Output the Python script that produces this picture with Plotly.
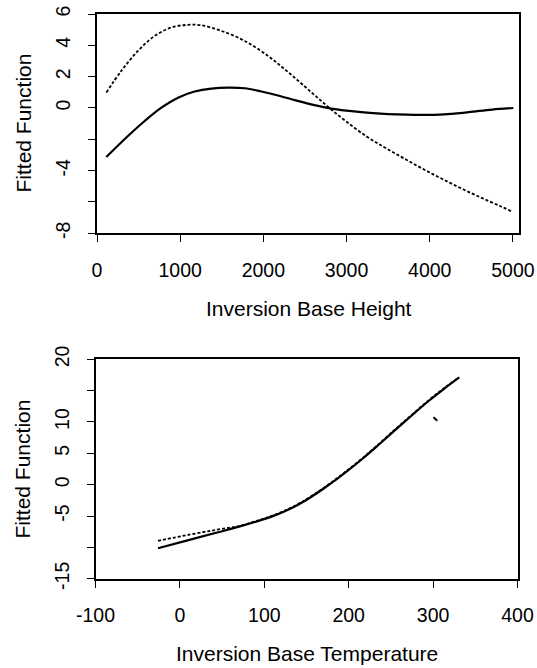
import plotly.graph_objects as go

# ---- data: top panel (Inversion Base Height) ----
height_solid_x = [112, 372, 573, 774, 974, 1174, 1375, 1575, 1776, 1977, 2177, 2400, 2600, 2799,
                  3000, 3241, 3500, 3722, 3950, 4123, 4300, 4523, 4750, 5005]
height_solid_y = [-3.13, -1.79, -0.83, 0.02, 0.66, 1.05, 1.24, 1.30, 1.26, 1.05, 0.80, 0.47, 0.20, -0.02,
                  -0.17, -0.30, -0.39, -0.43, -0.44, -0.42, -0.36, -0.23, -0.10, 0.0]
height_dot_x = [112, 292, 492, 693, 894, 1094, 1255, 1496, 1776, 2057, 2250, 2438, 2620, 2799,
                3000, 3241, 3441, 3641, 3842, 4042, 4244, 4444, 4645, 4845, 4977]
height_dot_y = [0.98, 2.37, 3.64, 4.6, 5.14, 5.31, 5.28, 4.92, 4.28, 3.32, 2.5, 1.65, 0.8, -0.02,
                -0.88, -1.82, -2.47, -3.07, -3.67, -4.24, -4.78, -5.3, -5.79, -6.26, -6.58]

# ---- data: bottom panel (Inversion Base Temperature) ----
temp_solid_x = [-26, 9, 43, 70, 95, 110, 125, 140, 155, 170, 185, 200, 216, 232, 256, 273, 295, 313, 331]
temp_solid_y = [-10.15, -8.89, -7.67, -6.7, -5.7, -5.02, -4.2, -3.2, -2.0, -0.65, 0.8, 2.35, 4.1, 5.95,
                8.83, 10.84, 13.39, 15.3, 17.1]
temp_dot_x = [-26, 11, 43, 70, 95, 110, 125, 140, 155, 170, 185, 200, 216, 232, 256, 273, 295, 313, 329]
temp_dot_y = [-8.95, -7.98, -7.2, -6.6, -5.6, -4.92, -4.1, -3.1, -1.9, -0.55, 0.9, 2.45, 4.2, 6.05,
              8.93, 10.94, 13.49, 15.4, 16.95]
temp_mark_x = [300.5, 305]
temp_mark_y = [10.75, 10.2]

# tick labels
top_x_ticks = [0, 1000, 2000, 3000, 4000, 5000]
top_y_ticks = [6, 4, 2, 0, -2, -4, -6, -8]
top_y_text = ["6", "4", "2", "0", "", "-4", "", "-8"]
bot_x_ticks = [-100, 0, 100, 200, 300, 400]
bot_x_text = ["-100", "0", "100", "200", "300", "400"]
bot_y_ticks = [20, 15, 10, 5, 0, -5, -10, -15]
bot_y_text = ["20", "", "10", "5", "0", "-5", "", "-15"]

W, H = 537, 668
FONT = "Liberation Sans, Arial, Helvetica, sans-serif"

fig = go.Figure()
solid = dict(color="black", width=2.2)
dotted = dict(color="black", width=1.8, dash="3px,2px")

fig.add_trace(go.Scatter(x=height_solid_x, y=height_solid_y, mode="lines",
                         line=dict(**solid, shape="spline", smoothing=1.0),
                         xaxis="x", yaxis="y", showlegend=False))
fig.add_trace(go.Scatter(x=height_dot_x, y=height_dot_y, mode="lines",
                         line=dict(**dotted, shape="spline", smoothing=1.0),
                         xaxis="x", yaxis="y", showlegend=False))
fig.add_trace(go.Scatter(x=temp_dot_x, y=temp_dot_y, mode="lines",
                         line=dict(**dotted, shape="spline", smoothing=1.0),
                         xaxis="x2", yaxis="y2", showlegend=False))
fig.add_trace(go.Scatter(x=temp_solid_x, y=temp_solid_y, mode="lines",
                         line=dict(**solid, shape="spline", smoothing=1.0),
                         xaxis="x2", yaxis="y2", showlegend=False))
fig.add_trace(go.Scatter(x=temp_mark_x, y=temp_mark_y, mode="lines", line=dict(color="black", width=2),
                         xaxis="x2", yaxis="y2", showlegend=False))

axis_common = dict(showline=True, linecolor="black", linewidth=1.6, mirror=True, ticks="outside",
                   ticklen=7, tickcolor="black", tickwidth=1.3, showgrid=False, zeroline=False,
                   automargin=False,
                   tickfont=dict(family=FONT, size=19.5, color="black"))

fig.update_layout(
    width=W, height=H, autosize=False, margin=dict(l=0, r=0, t=0, b=0, pad=0, autoexpand=False),
    paper_bgcolor="white", plot_bgcolor="white",
    font=dict(family=FONT, color="black"),
    xaxis=dict(domain=[97 / W, 519 / W], range=[0, 5073], tickvals=top_x_ticks,
               anchor="y", ticklabelstandoff=11, **axis_common),
    yaxis=dict(domain=[1 - 233.3 / H, 1 - 14 / H], range=[-8, 6], tickvals=top_y_ticks, ticktext=top_y_text,
               tickangle=-90, anchor="x", ticklabelstandoff=10, **axis_common),
    xaxis2=dict(domain=[95.5 / W, 517.5 / W], range=[-100, 400], tickvals=bot_x_ticks, ticktext=bot_x_text,
                anchor="y2", ticklabelstandoff=11, **axis_common),
    yaxis2=dict(domain=[1 - 578.7 / H, 1 - 359.3 / H], range=[-15, 20], tickvals=bot_y_ticks, ticktext=bot_y_text,
                tickangle=-90, anchor="x2", ticklabelstandoff=10, **axis_common),
)

title_font = dict(family=FONT, size=21, color="black")
fig.add_annotation(text="Inversion Base Height", x=309 / W, y=1 - 309 / H, xref="paper", yref="paper",
                   showarrow=False, font=title_font, xanchor="center", yanchor="middle")
fig.add_annotation(text="Fitted Function", x=22.5 / W, y=1 - 123 / H, xref="paper", yref="paper",
                   showarrow=False, font=title_font, textangle=-90, xanchor="center", yanchor="middle")
fig.add_annotation(text="Inversion Base Temperature", x=306.5 / W, y=1 - 653 / H, xref="paper", yref="paper",
                   showarrow=False, font=title_font, xanchor="center", yanchor="middle")
fig.add_annotation(text="Fitted Function", x=22.5 / W, y=1 - 469 / H, xref="paper", yref="paper",
                   showarrow=False, font=title_font, textangle=-90, xanchor="center", yanchor="middle")

fig.write_html("out.html")
